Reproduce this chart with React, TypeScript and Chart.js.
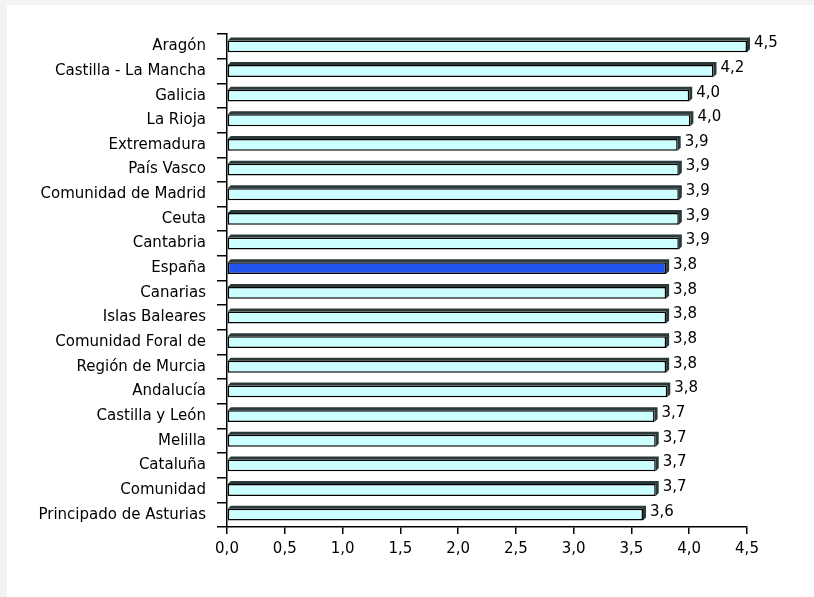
import React, { useEffect, useRef } from "react";
import { Chart, registerables } from "chart.js";

Chart.register(...registerables);

const categories = [
  "Aragón",
  "Castilla - La Mancha",
  "Galicia",
  "La Rioja",
  "Extremadura",
  "País Vasco",
  "Comunidad de Madrid",
  "Ceuta",
  "Cantabria",
  "España",
  "Canarias",
  "Islas Baleares",
  "Comunidad Foral de",
  "Región de Murcia",
  "Andalucía",
  "Castilla y León",
  "Melilla",
  "Cataluña",
  "Comunidad",
  "Principado de Asturias",
];

const values = [4.5, 4.21, 4.0, 4.01, 3.9, 3.91, 3.91, 3.91, 3.91, 3.8, 3.8, 3.8, 3.8, 3.8, 3.81, 3.7, 3.71, 3.71, 3.71, 3.6];
const valueLabels = ["4,5", "4,2", "4,0", "4,0", "3,9", "3,9", "3,9", "3,9", "3,9", "3,8", "3,8", "3,8", "3,8", "3,8", "3,8", "3,7", "3,7", "3,7", "3,7", "3,6"];
const highlight = "España";
const xTicks = ["0,0", "0,5", "1,0", "1,5", "2,0", "2,5", "3,0", "3,5", "4,0", "4,5"];

const FONT = "'DejaVu Sans', Verdana, sans-serif";
const FONT_SIZE = 15;

const shadowPlugin = {
  id: "shadow3d",
  beforeDatasetsDraw(chart: any) {
    const ctx = chart.ctx;
    const meta = chart.getDatasetMeta(0);
    ctx.save();
    meta.data.forEach((bar: any) => {
      const { x, y, base, height } = bar.getProps(["x", "y", "base", "height"], true);
      const top = y - height / 2;
      const bottom = y + height / 2;
      const d = 3;
      ctx.fillStyle = "#2a3a3a";
      ctx.beginPath();
      ctx.moveTo(base, top);
      ctx.lineTo(base + d, top - d);
      ctx.lineTo(x + d, top - d);
      ctx.lineTo(x + d, bottom - d);
      ctx.lineTo(x, bottom);
      ctx.lineTo(x, top);
      ctx.closePath();
      ctx.fill();
    });
    ctx.restore();
  },
  afterDatasetsDraw(chart: any) {
    const ctx = chart.ctx;
    const meta = chart.getDatasetMeta(0);
    ctx.save();
    ctx.font = `${FONT_SIZE}px ${FONT}`;
    ctx.fillStyle = "#000";
    ctx.textAlign = "left";
    ctx.textBaseline = "middle";
    meta.data.forEach((bar: any, i: number) => {
      const { x, y } = bar.getProps(["x", "y"], true);
      ctx.fillText(valueLabels[i], x + 7, y - 3);
    });
    ctx.restore();
  },
};

export default function App() {
  const ref = useRef<HTMLCanvasElement>(null);

  useEffect(() => {
    document.body.style.margin = "0";
    const canvas = ref.current!;
    const chart = new Chart(canvas, {
      type: "bar",
      data: {
        labels: categories,
        datasets: [
          {
            data: values,
            backgroundColor: categories.map((c) => (c === highlight ? "#2255ee" : "#ccffff")),
            borderColor: "#000",
            borderWidth: 1.5,
            borderSkipped: false,
            barPercentage: 0.96,
            categoryPercentage: 0.5,
          },
        ],
      },
      plugins: [shadowPlugin],
      options: {
        indexAxis: "y",
        animation: false,
        responsive: false,
        maintainAspectRatio: false,
        layout: { padding: { left: 0, right: 67, top: 29, bottom: 39 } },
        plugins: {
          legend: { display: false },
          tooltip: { enabled: false },
        },
        scales: {
          x: {
            min: 0,
            max: 4.5,
            afterFit: (s: any) => {
              s.height = 31;
            },
            afterBuildTicks: (s: any) => {
              s.ticks = xTicks.map((_, i) => ({ value: i * 0.5 }));
            },
            ticks: {
              color: "#000",
              font: { family: FONT, size: FONT_SIZE },
              padding: 6,
              maxRotation: 0,
              autoSkip: false,
              callback: (_v: any, i: number) => xTicks[i],
            },
            grid: {
              display: true,
              drawOnChartArea: false,
              drawTicks: true,
              tickLength: 7,
              color: "#000",
              lineWidth: 1.5,
            },
            border: { display: true, color: "#000", width: 1.5 },
          },
          y: {
            afterFit: (s: any) => {
              s.width = 220;
            },
            ticks: {
              color: "#000",
              font: { family: FONT, size: FONT_SIZE },
              padding: 11,
              autoSkip: false,
            },
            grid: {
              display: true,
              offset: true,
              drawOnChartArea: false,
              drawTicks: true,
              tickLength: 10,
              color: "#000",
              lineWidth: 1.5,
            },
            border: { display: true, color: "#000", width: 1.5 },
          },
        },
      },
    });
    return () => chart.destroy();
  }, []);

  return (
    <div style={{ position: "relative", width: 814, height: 597, background: "#f3f3f3", overflow: "hidden" }}>
      <div style={{ position: "absolute", left: 7, top: 5, width: 807, height: 592, background: "#fff" }}>
        <canvas ref={ref} width={807} height={592} style={{ display: "block", width: 807, height: 592 }} />
      </div>
    </div>
  );
}
